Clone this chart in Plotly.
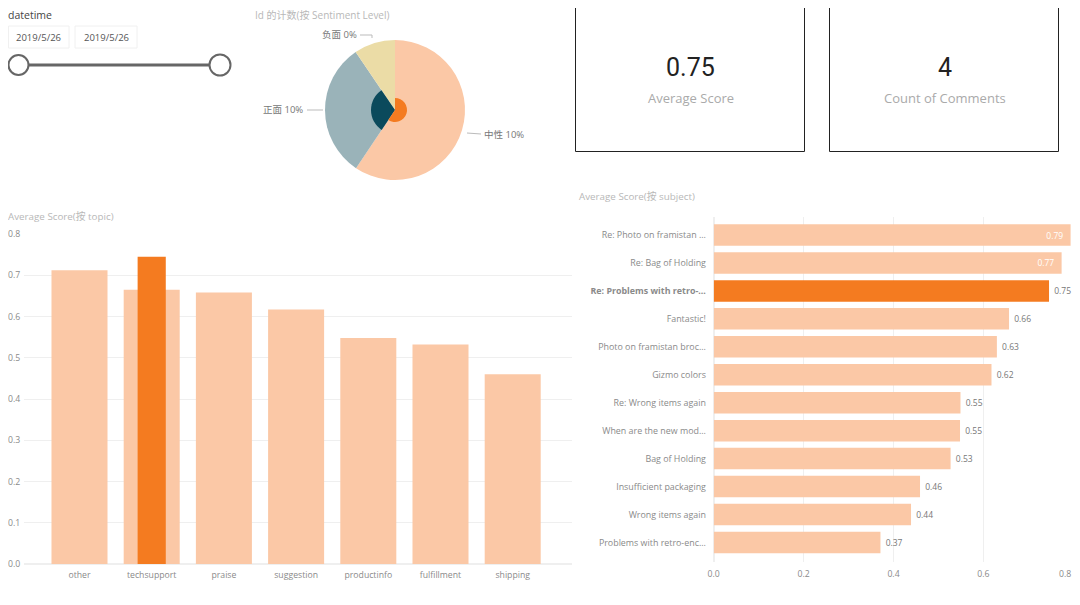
import plotly.graph_objects as go

# The page keeps an 8 px body margin at the left and top, so the figure starts there.
OFFSET = 8
W, H = 1072, 589

# ---- data ----
topics = ["other", "techsupport", "praise", "suggestion", "productinfo", "fulfillment", "shipping"]
topic_scores = [0.712, 0.665, 0.658, 0.617, 0.548, 0.532, 0.46]
topic_highlight = [None, 0.745, None, None, None, None, None]
y_ticks_topic = [0, 0.1, 0.2, 0.3, 0.4, 0.5, 0.6, 0.7, 0.8]

subjects = ["Re: Photo on framistan ...", "Re: Bag of Holding", "<b>Re: Problems with retro-...</b>",
            "Fantastic!", "Photo on framistan broc...", "Gizmo colors", "Re: Wrong items again",
            "When are the new mod...", "Bag of Holding", "Insufficient packaging",
            "Wrong items again", "Problems with retro-enc..."]
subject_scores = [0.794, 0.774, 0.746, 0.657, 0.63, 0.618, 0.549, 0.548, 0.527, 0.459, 0.439, 0.371]
subject_highlight_index = 2
x_ticks_subject = [0, 0.2, 0.4, 0.6, 0.8]

sentiments = ["中性", "正面", "负面"]
sentiment_counts = [59.4, 31.1, 9.5]
sentiment_labels = ["中性 10%", "正面 10%", "负面 0%"]

PEACH, ORANGE = "#FBC8A6", "#F47B20"
BLUE, YELLOW, TEAL = "#9AB3B9", "#EBDCA6", "#0B4A5C"
CLEAR = "rgba(0,0,0,0)"
FONT = "Open Sans, Noto Sans CJK SC, sans-serif"
GRAY, LIGHT, GRID = "#8a8a8a", "#b8b8b8", "#efefef"


def px(x):
    return (x - OFFSET) / W


def py(y):
    return 1 - (y - OFFSET) / H


def pie_domain(cx, cy, r):
    return dict(x=[px(cx - r), px(cx + r)], y=[py(cy + r), py(cy - r)])


fig = go.Figure()

# ---- pie ----
PIE_X, PIE_Y = 395, 110
fig.add_trace(go.Pie(labels=sentiments, values=sentiment_counts, sort=False, direction="clockwise", rotation=0,
                     marker=dict(colors=[PEACH, BLUE, YELLOW], line=dict(width=0)), textinfo="none",
                     hoverinfo="skip", showlegend=False, domain=pie_domain(PIE_X, PIE_Y, 70)))
fig.add_trace(go.Pie(labels=sentiments, values=sentiment_counts, sort=False, direction="clockwise", rotation=0,
                     marker=dict(colors=[CLEAR, TEAL, CLEAR], line=dict(width=0)), textinfo="none",
                     hoverinfo="skip", showlegend=False, domain=pie_domain(PIE_X, PIE_Y, 24)))
fig.add_trace(go.Pie(labels=sentiments, values=sentiment_counts, sort=False, direction="clockwise", rotation=0,
                     marker=dict(colors=[ORANGE, CLEAR, CLEAR], line=dict(width=0)), textinfo="none",
                     hoverinfo="skip", showlegend=False, domain=pie_domain(PIE_X, PIE_Y, 12)))

# ---- left column chart ----
fig.add_trace(go.Bar(x=topics, y=topic_scores, marker=dict(color=PEACH, line=dict(width=0)), width=0.776,
                     xaxis="x", yaxis="y", showlegend=False))
fig.add_trace(go.Bar(x=topics, y=topic_highlight, marker=dict(color=ORANGE, line=dict(width=0)), width=0.39,
                     xaxis="x", yaxis="y", showlegend=False))

# ---- right bar chart ----
colors = [ORANGE if i == subject_highlight_index else PEACH for i in range(len(subjects))]
texts = [f"{v:.2f}\u00a0\u00a0" if v > 0.76 else f"\u00a0{v:.2f}" for v in subject_scores]
positions = ["inside" if v > 0.76 else "outside" for v in subject_scores]
text_colors = ["#ffffff" if v > 0.76 else "#777777" for v in subject_scores]
fig.add_trace(go.Bar(y=subjects, x=subject_scores, orientation="h", width=0.77,
                     marker=dict(color=colors, line=dict(width=0)), text=texts, textposition=positions,
                     insidetextanchor="end", constraintext="none", cliponaxis=False,
                     textfont=dict(size=8.5, color=text_colors, family=FONT),
                     xaxis="x2", yaxis="y2", showlegend=False))

# ---- axes geometry (pixels in the window) ----
L_X0, L_X1, L_Y0, L_Y1 = 24, 572, 234, 564
cat0, cat_step = 79.5, 72.2
R_X0, R_X1, R_Y0, R_Y1 = 713.7, 1073.3, 217, 562
row0, row_step = 235, 27.95

tick_left = dict(size=8.7, color=GRAY, family=FONT)
tick_right = dict(size=8.9, color=GRAY, family=FONT)
fig.update_layout(
    width=W, height=H, autosize=False, margin=dict(l=0, r=0, t=0, b=0, pad=0), paper_bgcolor="white",
    plot_bgcolor="white", barmode="overlay", font=dict(family=FONT),
    xaxis=dict(domain=[px(L_X0), px(L_X1)], range=[(L_X0 - cat0) / cat_step, (L_X1 - cat0) / cat_step],
               type="category", categoryorder="array", categoryarray=topics, tickfont=tick_left, showgrid=False,
               ticks="outside", ticklen=3, tickcolor=CLEAR, showline=False, zeroline=False, anchor="y",
               fixedrange=True, automargin=False),
    yaxis=dict(domain=[py(L_Y1), py(L_Y0)], range=[0, 0.8], tickvals=y_ticks_topic, ticktext=[f"{v:.1f}" for v in y_ticks_topic],
               tickfont=tick_left, gridcolor=GRID, gridwidth=1, zeroline=True, zerolinecolor=GRID, showline=False,
               ticks="outside", ticklen=1, tickcolor=CLEAR, anchor="x", fixedrange=True, automargin=False),
    xaxis2=dict(domain=[px(R_X0), px(R_X1)], range=[0, 0.8], tickvals=x_ticks_subject,
                ticktext=[f"{v:.1f}" for v in x_ticks_subject[:-1]] + [""], tickfont=tick_left, gridcolor=GRID,
                zeroline=True, zerolinecolor=GRID, showline=False, ticks="outside", ticklen=4, tickcolor=CLEAR,
                anchor="y2", layer="above traces", fixedrange=True, automargin=False),
    yaxis2=dict(domain=[py(R_Y1), py(R_Y0)], type="category", categoryorder="array", categoryarray=subjects,
                range=[(R_Y1 - row0) / row_step, (R_Y0 - row0) / row_step], tickfont=tick_right, showgrid=False,
                ticks="outside", ticklen=5, tickcolor=CLEAR, showline=False, zeroline=False, anchor="x2",
                fixedrange=True, automargin=False),
)


def text(x, y, s, size, color, anchor="left", family=FONT):
    fig.add_annotation(x=px(x), y=py(y), xref="paper", yref="paper", text=s, showarrow=False, xanchor=anchor,
                       yanchor="middle", font=dict(size=size, color=color, family=family),
                       borderpad=0, borderwidth=0)


def rect(x0, y0, x1, y1, line, width=1, fill="white"):
    fig.add_shape(type="rect", xref="paper", yref="paper", x0=px(x0), y0=py(y0), x1=px(x1), y1=py(y1),
                  line=dict(color=line, width=width), fillcolor=fill, layer="below")


def line(x0, y0, x1, y1, color, width=1):
    fig.add_shape(type="line", xref="paper", yref="paper", x0=px(x0), y0=py(y0), x1=px(x1), y1=py(y1),
                  line=dict(color=color, width=width))


def circle(cx, cy, r, color, width):
    fig.add_shape(type="circle", xref="paper", yref="paper", x0=px(cx - r), y0=py(cy - r), x1=px(cx + r), y1=py(cy + r),
                  line=dict(color=color, width=width), fillcolor="white")


# ---- slicer ----
text(8, 15, "datetime", 10.5, "#444444")
rect(8.5, 26, 69, 48, "#f0f0f0")
rect(75, 26, 137, 48, "#f0f0f0")
text(38, 37, "2019/5/26", 9.5, "#555555", "center")
text(106, 37, "2019/5/26", 9.5, "#555555", "center")
line(28, 65, 209, 65, "#666666", 3)
circle(18.5, 65, 10, "#666666", 2)
circle(220, 65, 10.5, "#666666", 2)

# ---- titles ----
text(255, 15, "Id 的计数(按 Sentiment Level)", 10, LIGHT)
text(8, 216, "Average Score(按 topic)", 9.8, LIGHT)
text(579, 196, "Average Score(按 subject)", 9.8, LIGHT)

# ---- last value-axis label, kept inside the visible edge ----
text(1071, 574, f"{x_ticks_subject[-1]:.1f}", 8.7, GRAY, "right")

# ---- pie labels ----
text(357, 35, sentiment_labels[2], 9.5, "#777777", "right")
text(303, 110, sentiment_labels[1], 9.5, "#777777", "right")
text(484, 134, sentiment_labels[0], 9.5, "#777777", "left")
line(360, 35, 372, 35, "#bbbbbb")
line(372, 35, 372, 38, "#bbbbbb")
line(307, 110, 323, 110, "#bbbbbb")
line(467, 133, 481, 134, "#bbbbbb")

# ---- KPI cards ----
rect(575.5, -2, 804.5, 151.5, "#222222")
rect(829.5, -2, 1058.5, 151.5, "#222222")
text(690.5, 68, "0.75", 25, "#222222", "center", "Roboto")
text(944.5, 68, "4", 25, "#222222", "center", "Roboto")
text(690.5, 98, "Average Score", 13, "#aaaaaa", "center")
text(944.5, 98, "Count of Comments", 13, "#aaaaaa", "center")

fig.write_html("out.html", config={"displayModeBar": False})
